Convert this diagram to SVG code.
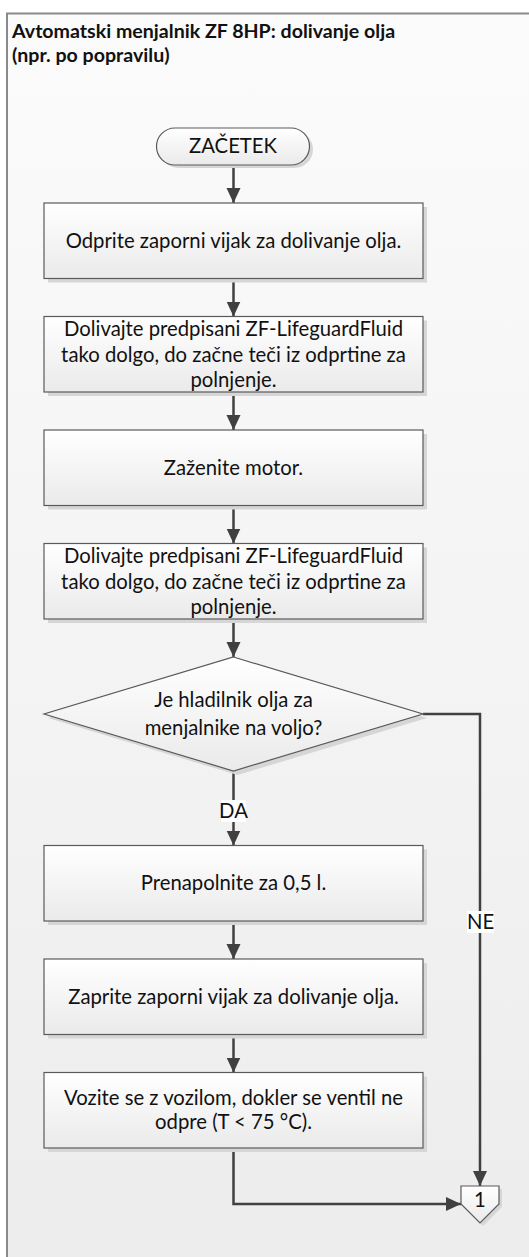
<svg xmlns="http://www.w3.org/2000/svg" width="529" height="1257" viewBox="0 0 529 1257">
<defs>
<linearGradient id="bg" x1="0" y1="0" x2="0" y2="1"><stop offset="0" stop-color="#fbfbfb"/><stop offset="1" stop-color="#ececec"/></linearGradient>
<linearGradient id="nf" x1="0" y1="0" x2="0" y2="1"><stop offset="0" stop-color="#ffffff"/><stop offset="1" stop-color="#eaeaea"/></linearGradient>
<marker id="ah" markerUnits="userSpaceOnUse" markerWidth="16" markerHeight="16" refX="15" refY="7" orient="auto"><path d="M0,0 L15,7 L0,14 z" fill="#404040"/></marker>
</defs>
<style>
.node{fill:url(#nf);stroke:#5a5a5a;stroke-width:1.2}
.sh{fill:#d6d6d6}
.t{font-family:Lato,"Liberation Sans",sans-serif;font-size:20.3px;fill:#111;text-anchor:middle}
.title{font-family:Lato,"Liberation Sans",sans-serif;font-size:19.6px;font-weight:bold;fill:#111}
.c{fill:none;stroke:#404040;stroke-width:2.5;marker-end:url(#ah)}
.lbl{fill:#ffffff}
</style>
<rect x="0" y="0" width="529" height="1257" fill="#ffffff"/>
<rect id="frame" x="7" y="13.5" width="600" height="1300" fill="url(#bg)" stroke="#8a8a8a" stroke-width="2"/>
<g id="title">
<text class="title" x="12" y="38">Avtomatski menjalnik ZF 8HP: dolivanje olja</text>
<text class="title" x="12" y="62">(npr. po popravilu)</text>
</g>
<g id="connectors">
<path class="c" d="M233.5,165 V203"/>
<path class="c" d="M233.5,278.5 V316.5"/>
<path class="c" d="M233.5,392 V430"/>
<path class="c" d="M233.5,505.5 V543.5"/>
<path class="c" d="M233.5,619 V657"/>
<path class="c" d="M233.5,771 V845.5"/>
<path class="c" d="M423,714 H480 V1186"/>
<path class="c" d="M233.5,921 V959"/>
<path class="c" d="M233.5,1034.5 V1072.5"/>
<path class="c" d="M233.5,1148 V1204 H461"/>
<rect class="lbl" x="221" y="800" width="25" height="22"/>
<text class="t" x="233.5" y="818">DA</text>
<rect class="lbl" x="467" y="911" width="27" height="22"/>
<text class="t" x="480.5" y="929">NE</text>
</g>
<g id="start">
<rect class="sh" x="160" y="131" width="153" height="37" rx="18.5"/>
<rect class="node" x="156.5" y="128" width="153" height="37" rx="18.5"/>
<text class="t" x="233" y="153">ZAČETEK</text>
</g>
<g id="n1">
<rect class="sh" x="48" y="207" width="379" height="75.5"/>
<rect class="node" x="44" y="203" width="379" height="75.5"/>
<text class="t" x="233.5" y="248">Odprite zaporni vijak za dolivanje olja.</text>
</g>
<g id="n2">
<rect class="sh" x="48" y="320.5" width="379" height="75.5"/>
<rect class="node" x="44" y="316.5" width="379" height="75.5"/>
<text class="t" x="233.5" y="336">Dolivajte predpisani ZF-LifeguardFluid</text>
<text class="t" x="233.5" y="362">tako dolgo, do začne teči iz odprtine za</text>
<text class="t" x="233.5" y="387">polnjenje.</text>
</g>
<g id="n3">
<rect class="sh" x="48" y="434" width="379" height="75.5"/>
<rect class="node" x="44" y="430" width="379" height="75.5"/>
<text class="t" x="233.5" y="475">Zaženite motor.</text>
</g>
<g id="n4">
<rect class="sh" x="48" y="547.5" width="379" height="75.5"/>
<rect class="node" x="44" y="543.5" width="379" height="75.5"/>
<text class="t" x="233.5" y="563">Dolivajte predpisani ZF-LifeguardFluid</text>
<text class="t" x="233.5" y="589">tako dolgo, do začne teči iz odprtine za</text>
<text class="t" x="233.5" y="614">polnjenje.</text>
</g>
<g id="d1">
<path class="sh" d="M237.5,661 L427,718 L237.5,775 L48,718 z"/>
<path class="node" d="M233.5,657 L423,714 L233.5,771 L44,714 z"/>
<text class="t" x="233.5" y="707">Je hladilnik olja za</text>
<text class="t" x="233.5" y="735">menjalnike na voljo?</text>
</g>
<g id="n5">
<rect class="sh" x="48" y="849.5" width="379" height="75.5"/>
<rect class="node" x="44" y="845.5" width="379" height="75.5"/>
<text class="t" x="233.5" y="890">Prenapolnite za 0,5 l.</text>
</g>
<g id="n6">
<rect class="sh" x="48" y="963" width="379" height="75.5"/>
<rect class="node" x="44" y="959" width="379" height="75.5"/>
<text class="t" x="233.5" y="1004">Zaprite zaporni vijak za dolivanje olja.</text>
</g>
<g id="n7">
<rect class="sh" x="48" y="1076.5" width="379" height="75.5"/>
<rect class="node" x="44" y="1072.5" width="379" height="75.5"/>
<text class="t" x="233.5" y="1105">Vozite se z vozilom, dokler se ventil ne</text>
<text class="t" x="233.5" y="1129">odpre (T &lt; 75 °C).</text>
</g>
<g id="end">
<path class="sh" d="M464,1189 H502 V1207 L483,1226 L464,1207 z"/>
<path class="node" d="M461,1186 H499 V1204 L480,1223 L461,1204 z"/>
<text class="t" x="480" y="1207">1</text>
</g>
</svg>
